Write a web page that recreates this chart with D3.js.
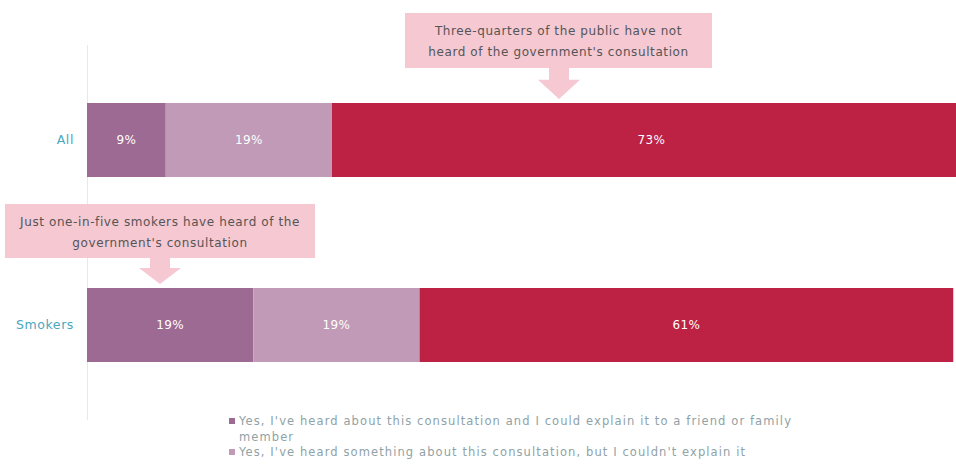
<!DOCTYPE html>
<html>
<head>
<meta charset="utf-8">
<script src="https://cdn.jsdelivr.net/npm/d3@7"></script>
<style>
  html, body { margin: 0; padding: 0; background: #fff; }
  svg { display: block; font-family: "DejaVu Sans", "Open Sans", sans-serif; }
</style>
</head>
<body>
<svg id="chart" width="956" height="472"></svg>
<script>
// Awareness of the government's consultation, by group (% of respondents)
const categories = ["All", "Smokers"];
const seriesNames = [
  "Yes, I've heard about this consultation and I could explain it to a friend or family member",
  "Yes, I've heard something about this consultation, but I couldn't explain it",
  "No, I haven't heard about this consultation"
];
const explainValues = [9, 19];
const somethingValues = [19, 19];
const notHeardValues = [73, 61];
const seriesColors = ["#9d6a94", "#c09ab6", "#bd2144"];
const annotations = [
  { category: "All", lines: ["Three-quarters of the public have not", "heard of the government's consultation"] },
  { category: "Smokers", lines: ["Just one-in-five smokers have heard of the", "government's consultation"] }
];

const svg = d3.select("#chart");

const rows = categories.map((c, i) => ({
  category: c,
  values: [explainValues[i], somethingValues[i], notHeardValues[i]]
}));

// the value axis runs a little past the right edge of the frame
const x = d3.scaleLinear().domain([0, 100]).range([87, 962]);
const y = d3.scaleBand().domain(categories).range([47.5, 417.5]).paddingInner(0.6).paddingOuter(0.3);

// vertical category axis line
svg.append("line")
  .attr("x1", x(0) + 0.5).attr("x2", x(0) + 0.5)
  .attr("y1", 45).attr("y2", 420)
  .attr("stroke", "#e8e8e8").attr("stroke-width", 1);

// stacked segments
const segs = rows.flatMap(r => {
  let acc = 0;
  return r.values.map((v, k) => {
    const s = { category: r.category, k, v, x0: acc, x1: acc + v };
    acc += v;
    return s;
  });
});

svg.append("g").selectAll("rect").data(segs).join("rect")
  .attr("x", d => x(d.x0))
  .attr("y", d => y(d.category))
  .attr("width", d => x(d.x1) - x(d.x0))
  .attr("height", y.bandwidth())
  .attr("fill", d => seriesColors[d.k]);

svg.append("g").selectAll("text").data(segs).join("text")
  .attr("x", d => (x(d.x0) + x(d.x1)) / 2)
  .attr("y", d => y(d.category) + y.bandwidth() / 2)
  .attr("dy", "0.35em")
  .attr("text-anchor", "middle")
  .attr("fill", "#fff")
  .attr("font-size", 12)
  .attr("letter-spacing", 0.4)
  .text(d => d.v + "%");

// category labels
svg.append("g").selectAll("text").data(categories).join("text")
  .attr("x", x(0) - 13)
  .attr("y", d => y(d) + y.bandwidth() / 2)
  .attr("dy", "0.35em")
  .attr("text-anchor", "end")
  .attr("fill", "#4aa6c0")
  .attr("font-size", 12.5)
  .attr("letter-spacing", 0.6)
  .text(d => d);

// callout boxes with downward block arrows
const boxFill = "#f5c8d2";
const callouts = [
  { box: [405, 13, 307, 55], arrowX: 559 },
  { box: [5, 204, 310, 54], arrowX: 160 }
];
annotations.forEach((a, i) => {
  const c = callouts[i];
  const [bx, by, bw, bh] = c.box;
  const g = svg.append("g");
  g.append("rect").attr("x", bx).attr("y", by).attr("width", bw).attr("height", bh).attr("fill", boxFill);
  const top = by + bh, tip = y(a.category) - 4;
  const ax = c.arrowX, sw = 10, hw = 21, headTop = top + (tip - top) * 0.38;
  g.append("path")
    .attr("d", `M${ax - sw},${top} L${ax + sw},${top} L${ax + sw},${headTop} L${ax + hw},${headTop} L${ax},${tip} L${ax - hw},${headTop} L${ax - sw},${headTop} Z`)
    .attr("fill", boxFill);
  g.selectAll("text").data(a.lines).join("text")
    .attr("x", bx + bw / 2)
    .attr("y", (d, j) => by + 18 + j * 21)
    .attr("dy", "0.35em")
    .attr("text-anchor", "middle")
    .attr("fill", "#555")
    .attr("font-size", 12)
    .attr("letter-spacing", 0.6)
    .text(d => d);
});

// legend (first two entries fit in the frame)
const legend = svg.append("g").attr("transform", "translate(229,0)");
const legendItems = [
  { k: 0, lines: ["Yes, I've heard about this consultation and I could explain it to a friend or family", "member"], y: 421 },
  { k: 1, lines: ["Yes, I've heard something about this consultation, but I couldn't explain it"], y: 452 }
];
legendItems.forEach(item => {
  legend.append("rect")
    .attr("x", 0).attr("y", item.y - 3).attr("width", 6).attr("height", 6)
    .attr("fill", seriesColors[item.k]);
  item.lines.forEach((ln, j) => {
    legend.append("text")
      .attr("x", 10)
      .attr("y", item.y + j * 15.5)
      .attr("dy", "0.35em")
      .attr("fill", "#8fa2a6")
      .attr("font-size", 11.5)
      .attr("letter-spacing", 1.1)
      .text(ln);
  });
});
</script>
</body>
</html>
